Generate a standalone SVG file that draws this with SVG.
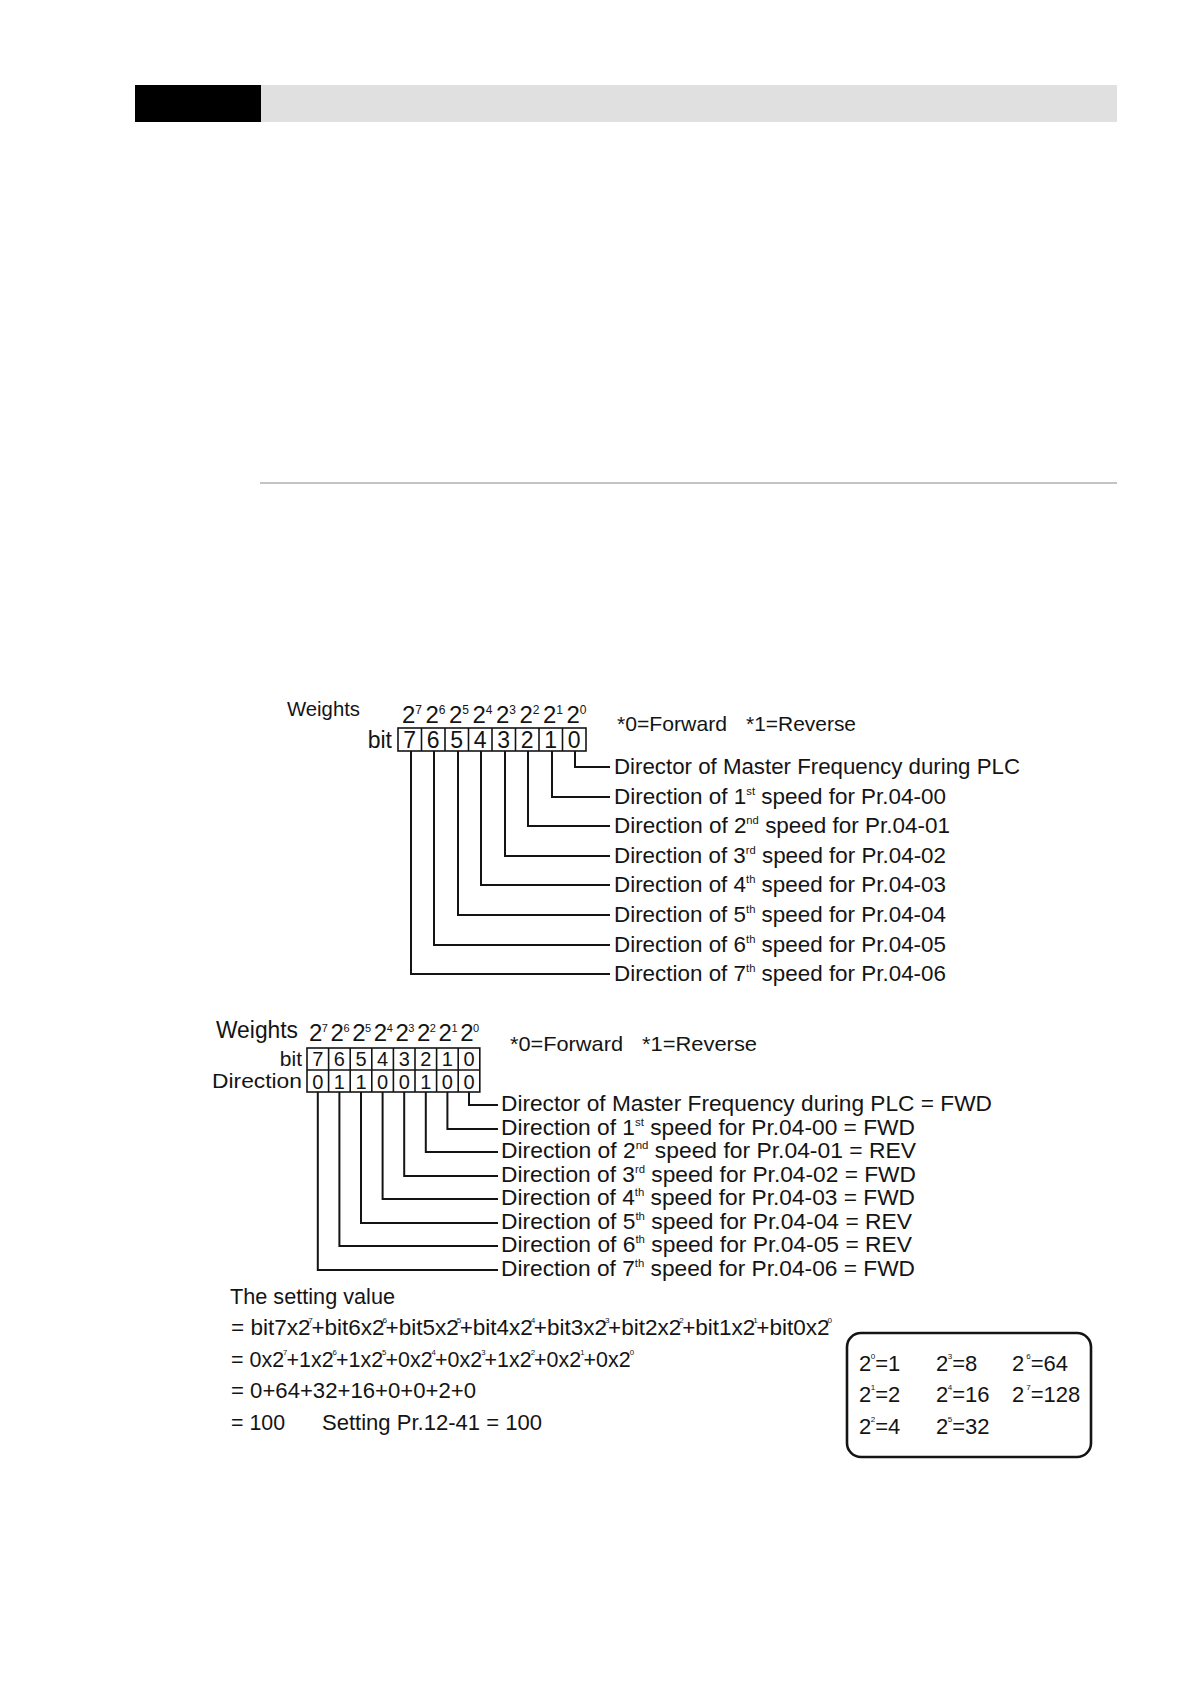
<svg xmlns="http://www.w3.org/2000/svg" width="1191" height="1684" viewBox="0 0 1191 1684">
<style>
.t{font-family:"Liberation Sans",Arial,Helvetica,sans-serif;fill:#141414}
.l1{font-size:22px}
.l2{font-size:22px}
.d{font-size:23px;text-anchor:middle}
.dd{font-size:20px;text-anchor:middle}
.e{font-size:24px}
.e2{font-size:22px}
.s1{font-size:11px}
.s2{font-size:12px}
.s0{font-size:8px}
.ln{fill:none;stroke:#141414;stroke-width:2}
.cell{fill:none;stroke:#141414;stroke-width:1.6}
</style>
<rect width="1191" height="1684" fill="#ffffff"/>
<g id="header">
<rect x="135" y="85" width="126" height="37" fill="#000000"/>
<rect x="261" y="85" width="856" height="37" fill="#e0e0e0"/>
<line x1="260" y1="483" x2="1117" y2="483" stroke="#8a8a8a" stroke-width="1.2"/>
</g>

<!-- Diagram 1 -->
<g id="d1-weights">
<text class="t" x="287" y="716" font-size="21" textLength="73" lengthAdjust="spacingAndGlyphs">Weights</text>
<text class="t e" x="402" y="723">2<tspan class="s2" dy="-9">7</tspan></text>
<text class="t e" x="425.5" y="723">2<tspan class="s2" dy="-9">6</tspan></text>
<text class="t e" x="449" y="723">2<tspan class="s2" dy="-9">5</tspan></text>
<text class="t e" x="472.5" y="723">2<tspan class="s2" dy="-9">4</tspan></text>
<text class="t e" x="496" y="723">2<tspan class="s2" dy="-9">3</tspan></text>
<text class="t e" x="519.5" y="723">2<tspan class="s2" dy="-9">2</tspan></text>
<text class="t e" x="543" y="723">2<tspan class="s2" dy="-9">1</tspan></text>
<text class="t e" x="566.5" y="723">2<tspan class="s2" dy="-9">0</tspan></text>
</g>
<g id="d1-legend">
<text class="t" x="617" y="731" font-size="21" textLength="110" lengthAdjust="spacingAndGlyphs">*0=Forward</text>
<text class="t" x="746" y="731" font-size="21" textLength="110" lengthAdjust="spacingAndGlyphs">*1=Reverse</text>
</g>
<g id="d1-bits">
<text class="t" x="392" y="748" font-size="23" text-anchor="end">bit</text>
<rect class="cell" x="398" y="728" width="188" height="23"/>
<path class="cell" d="M421.5 728V751M445 728V751M468.5 728V751M492 728V751M515.5 728V751M539 728V751M562.5 728V751"/>
<text class="t d" x="409.75" y="748">7</text>
<text class="t d" x="433.25" y="748">6</text>
<text class="t d" x="456.75" y="748">5</text>
<text class="t d" x="480.25" y="748">4</text>
<text class="t d" x="503.75" y="748">3</text>
<text class="t d" x="527.25" y="748">2</text>
<text class="t d" x="550.75" y="748">1</text>
<text class="t d" x="574.25" y="748">0</text>
</g>
<g id="d1-connectors">
<path class="ln" d="M575 751V767H610"/>
<path class="ln" d="M552 751V797H610"/>
<path class="ln" d="M528 751V826H610"/>
<path class="ln" d="M505 751V856H610"/>
<path class="ln" d="M481 751V885H610"/>
<path class="ln" d="M458 751V915H610"/>
<path class="ln" d="M434 751V945H610"/>
<path class="ln" d="M411 751V974H610"/>
</g>
<g id="d1-labels">
<text class="t l1" x="614" y="774" textLength="406" lengthAdjust="spacingAndGlyphs">Director of Master Frequency during PLC</text>
<text class="t l1" x="614" y="804" textLength="332" lengthAdjust="spacingAndGlyphs">Direction of 1<tspan class="s1" dy="-9">st</tspan><tspan dy="9"> speed for Pr.04-00</tspan></text>
<text class="t l1" x="614" y="833" textLength="336" lengthAdjust="spacingAndGlyphs">Direction of 2<tspan class="s1" dy="-9">nd</tspan><tspan dy="9"> speed for Pr.04-01</tspan></text>
<text class="t l1" x="614" y="863" textLength="332" lengthAdjust="spacingAndGlyphs">Direction of 3<tspan class="s1" dy="-9">rd</tspan><tspan dy="9"> speed for Pr.04-02</tspan></text>
<text class="t l1" x="614" y="892" textLength="332" lengthAdjust="spacingAndGlyphs">Direction of 4<tspan class="s1" dy="-9">th</tspan><tspan dy="9"> speed for Pr.04-03</tspan></text>
<text class="t l1" x="614" y="922" textLength="332" lengthAdjust="spacingAndGlyphs">Direction of 5<tspan class="s1" dy="-9">th</tspan><tspan dy="9"> speed for Pr.04-04</tspan></text>
<text class="t l1" x="614" y="952" textLength="332" lengthAdjust="spacingAndGlyphs">Direction of 6<tspan class="s1" dy="-9">th</tspan><tspan dy="9"> speed for Pr.04-05</tspan></text>
<text class="t l1" x="614" y="981" textLength="332" lengthAdjust="spacingAndGlyphs">Direction of 7<tspan class="s1" dy="-9">th</tspan><tspan dy="9"> speed for Pr.04-06</tspan></text>
</g>

<!-- Diagram 2 -->
<g id="d2-weights">
<text class="t" x="216" y="1038" font-size="23" textLength="82" lengthAdjust="spacingAndGlyphs">Weights</text>
<text class="t e" x="309" y="1041">2<tspan class="s1" dx="-0.5" dy="-9">7</tspan></text>
<text class="t e" x="330.6" y="1041">2<tspan class="s1" dx="-0.5" dy="-9">6</tspan></text>
<text class="t e" x="352.2" y="1041">2<tspan class="s1" dx="-0.5" dy="-9">5</tspan></text>
<text class="t e" x="373.8" y="1041">2<tspan class="s1" dx="-0.5" dy="-9">4</tspan></text>
<text class="t e" x="395.4" y="1041">2<tspan class="s1" dx="-0.5" dy="-9">3</tspan></text>
<text class="t e" x="417" y="1041">2<tspan class="s1" dx="-0.5" dy="-9">2</tspan></text>
<text class="t e" x="438.6" y="1041">2<tspan class="s1" dx="-0.5" dy="-9">1</tspan></text>
<text class="t e" x="460.2" y="1041">2<tspan class="s1" dx="-0.5" dy="-9">0</tspan></text>
</g>
<g id="d2-legend">
<text class="t" x="510" y="1051" font-size="21" textLength="113" lengthAdjust="spacingAndGlyphs">*0=Forward</text>
<text class="t" x="642" y="1051" font-size="21" textLength="115" lengthAdjust="spacingAndGlyphs">*1=Reverse</text>
</g>
<g id="d2-table">
<text class="t" x="302" y="1066" font-size="21" text-anchor="end">bit</text>
<text class="t" x="302" y="1088" font-size="21" text-anchor="end" textLength="90" lengthAdjust="spacingAndGlyphs">Direction</text>
<rect class="cell" x="307" y="1048" width="172.8" height="44"/>
<path class="cell" d="M307 1070H479.8M328.6 1048V1092M350.2 1048V1092M371.8 1048V1092M393.4 1048V1092M415 1048V1092M436.6 1048V1092M458.2 1048V1092"/>
<text class="t dd" x="317.8" y="1066">7</text>
<text class="t dd" x="339.4" y="1066">6</text>
<text class="t dd" x="361" y="1066">5</text>
<text class="t dd" x="382.6" y="1066">4</text>
<text class="t dd" x="404.2" y="1066">3</text>
<text class="t dd" x="425.8" y="1066">2</text>
<text class="t dd" x="447.4" y="1066">1</text>
<text class="t dd" x="469" y="1066">0</text>
<text class="t dd" x="317.8" y="1088.5">0</text>
<text class="t dd" x="339.4" y="1088.5">1</text>
<text class="t dd" x="361" y="1088.5">1</text>
<text class="t dd" x="382.6" y="1088.5">0</text>
<text class="t dd" x="404.2" y="1088.5">0</text>
<text class="t dd" x="425.8" y="1088.5">1</text>
<text class="t dd" x="447.4" y="1088.5">0</text>
<text class="t dd" x="469" y="1088.5">0</text>
</g>
<g id="d2-connectors">
<path class="ln" d="M469 1092V1105H498"/>
<path class="ln" d="M447.4 1092V1129H498"/>
<path class="ln" d="M425.8 1092V1152H498"/>
<path class="ln" d="M404.2 1092V1176H498"/>
<path class="ln" d="M382.6 1092V1199H498"/>
<path class="ln" d="M361 1092V1223H498"/>
<path class="ln" d="M339.4 1092V1246H498"/>
<path class="ln" d="M317.8 1092V1270H498"/>
</g>
<g id="d2-labels">
<text class="t l2" x="501" y="1111" textLength="491" lengthAdjust="spacingAndGlyphs">Director of Master Frequency during PLC = FWD</text>
<text class="t l2" x="501" y="1135" textLength="414" lengthAdjust="spacingAndGlyphs">Direction of 1<tspan class="s1" dy="-9">st</tspan><tspan dy="9"> speed for Pr.04-00 = FWD</tspan></text>
<text class="t l2" x="501" y="1158" textLength="415" lengthAdjust="spacingAndGlyphs">Direction of 2<tspan class="s1" dy="-9">nd</tspan><tspan dy="9"> speed for Pr.04-01 = REV</tspan></text>
<text class="t l2" x="501" y="1182" textLength="415" lengthAdjust="spacingAndGlyphs">Direction of 3<tspan class="s1" dy="-9">rd</tspan><tspan dy="9"> speed for Pr.04-02 = FWD</tspan></text>
<text class="t l2" x="501" y="1205" textLength="414" lengthAdjust="spacingAndGlyphs">Direction of 4<tspan class="s1" dy="-9">th</tspan><tspan dy="9"> speed for Pr.04-03 = FWD</tspan></text>
<text class="t l2" x="501" y="1229" textLength="411" lengthAdjust="spacingAndGlyphs">Direction of 5<tspan class="s1" dy="-9">th</tspan><tspan dy="9"> speed for Pr.04-04 = REV</tspan></text>
<text class="t l2" x="501" y="1252" textLength="411" lengthAdjust="spacingAndGlyphs">Direction of 6<tspan class="s1" dy="-9">th</tspan><tspan dy="9"> speed for Pr.04-05 = REV</tspan></text>
<text class="t l2" x="501" y="1276" textLength="414" lengthAdjust="spacingAndGlyphs">Direction of 7<tspan class="s1" dy="-9">th</tspan><tspan dy="9"> speed for Pr.04-06 = FWD</tspan></text>
</g>

<!-- Setting value -->
<g id="setting-value">
<text class="t" x="230" y="1304" font-size="22" textLength="165" lengthAdjust="spacingAndGlyphs">The setting value</text>
<text class="t" x="231" y="1335" font-size="22" textLength="601" lengthAdjust="spacingAndGlyphs">= bit7x2<tspan class="s0" dx="-2" dy="-12">7</tspan><tspan dx="-1.5" dy="12">+bit6x2</tspan><tspan class="s0" dx="-2" dy="-12">6</tspan><tspan dx="-1.5" dy="12">+bit5x2</tspan><tspan class="s0" dx="-2" dy="-12">5</tspan><tspan dx="-1.5" dy="12">+bit4x2</tspan><tspan class="s0" dx="-2" dy="-12">4</tspan><tspan dx="-1.5" dy="12">+bit3x2</tspan><tspan class="s0" dx="-2" dy="-12">3</tspan><tspan dx="-1.5" dy="12">+bit2x2</tspan><tspan class="s0" dx="-2" dy="-12">2</tspan><tspan dx="-1.5" dy="12">+bit1x2</tspan><tspan class="s0" dx="-2" dy="-12">1</tspan><tspan dx="-1.5" dy="12">+bit0x2</tspan><tspan class="s0" dx="-2" dy="-12">0</tspan></text>
<text class="t" x="231" y="1367" font-size="22" textLength="403" lengthAdjust="spacingAndGlyphs">= 0x2<tspan class="s0" dx="-1" dy="-12">7</tspan><tspan dx="-1" dy="12">+1x2</tspan><tspan class="s0" dx="-1" dy="-12">6</tspan><tspan dx="-1" dy="12">+1x2</tspan><tspan class="s0" dx="-1" dy="-12">5</tspan><tspan dx="-1" dy="12">+0x2</tspan><tspan class="s0" dx="-1" dy="-12">4</tspan><tspan dx="-1" dy="12">+0x2</tspan><tspan class="s0" dx="-1" dy="-12">3</tspan><tspan dx="-1" dy="12">+1x2</tspan><tspan class="s0" dx="-1" dy="-12">2</tspan><tspan dx="-1" dy="12">+0x2</tspan><tspan class="s0" dx="-1" dy="-12">1</tspan><tspan dx="-1" dy="12">+0x2</tspan><tspan class="s0" dx="-1" dy="-12">0</tspan></text>
<text class="t" x="231" y="1398" font-size="22" textLength="245" lengthAdjust="spacingAndGlyphs">= 0+64+32+16+0+0+2+0</text>
<text class="t" x="231" y="1430" font-size="22" textLength="54" lengthAdjust="spacingAndGlyphs">= 100</text>
<text class="t" x="322" y="1430" font-size="22" textLength="220" lengthAdjust="spacingAndGlyphs">Setting Pr.12-41 = 100</text>
</g>

<g id="powers-box">
<rect x="847" y="1333" width="244" height="124" rx="14" ry="14" fill="none" stroke="#141414" stroke-width="2.6"/>
<text class="t e2" x="859" y="1371">2<tspan class="s0" dx="-0.5" dy="-12">0</tspan><tspan dy="12">=1</tspan></text>
<text class="t e2" x="859" y="1402">2<tspan class="s0" dx="-0.5" dy="-12">1</tspan><tspan dy="12">=2</tspan></text>
<text class="t e2" x="859" y="1434">2<tspan class="s0" dx="-0.5" dy="-12">2</tspan><tspan dy="12">=4</tspan></text>
<text class="t e2" x="936" y="1371">2<tspan class="s0" dx="-0.5" dy="-12">3</tspan><tspan dy="12">=8</tspan></text>
<text class="t e2" x="936" y="1402">2<tspan class="s0" dx="-0.5" dy="-12">4</tspan><tspan dy="12">=16</tspan></text>
<text class="t e2" x="936" y="1434">2<tspan class="s0" dx="-0.5" dy="-12">5</tspan><tspan dy="12">=32</tspan></text>
<text class="t e2" x="1012" y="1371">2<tspan class="s0" dx="2" dy="-12">6</tspan><tspan dy="12">=64</tspan></text>
<text class="t e2" x="1012" y="1402">2<tspan class="s0" dx="2" dy="-12">7</tspan><tspan dy="12">=128</tspan></text>
</g>
</svg>
